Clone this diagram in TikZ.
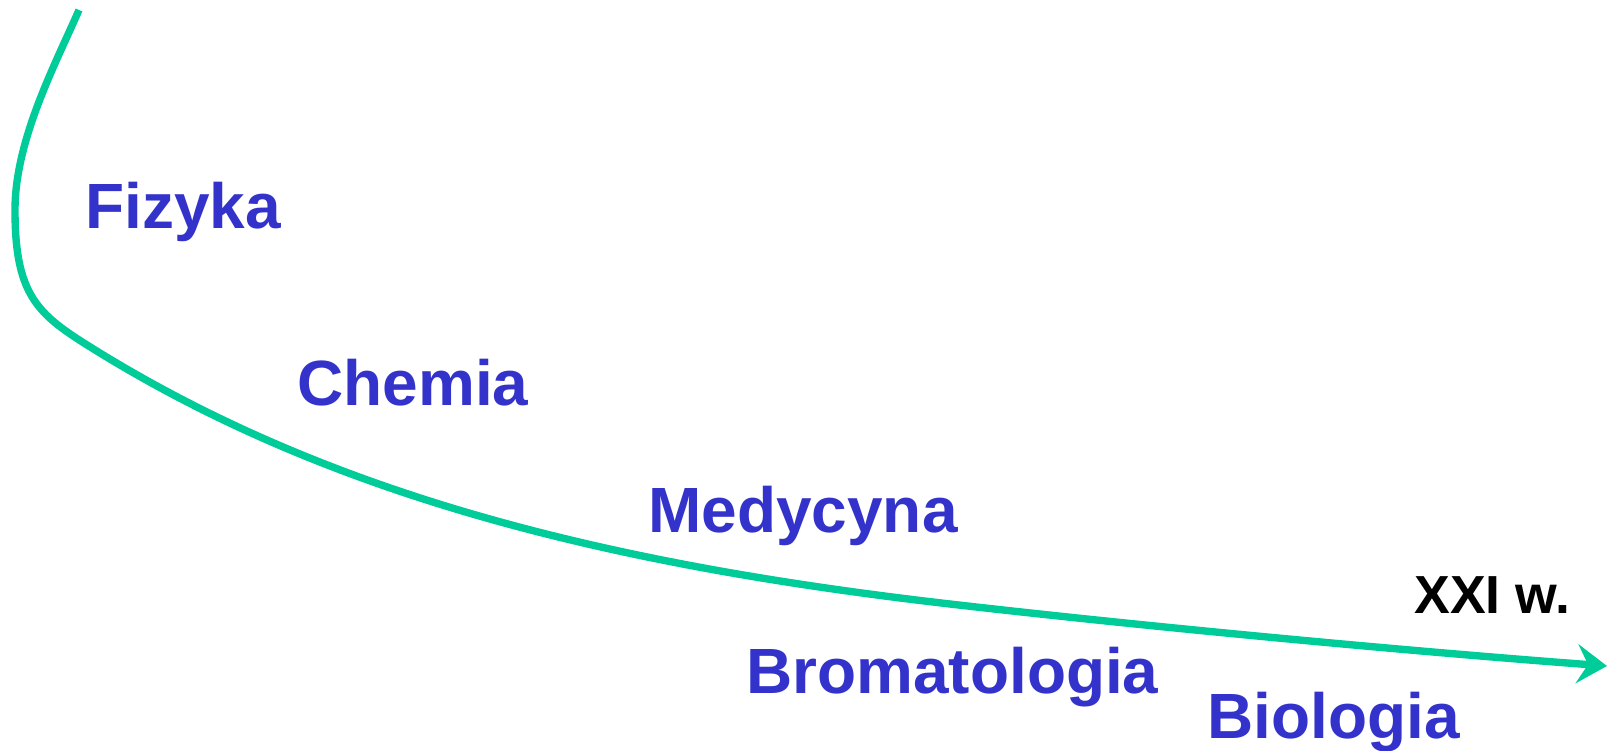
\documentclass[tikz,border=0pt]{standalone}
\usepackage{fontspec}
\setmainfont{Liberation Sans}
\usepackage{xcolor}
\usetikzlibrary{arrows.meta, positioning}
\definecolor{subjectBlue}{HTML}{3333CC}
\definecolor{curveGreen}{HTML}{00CC99}
\tikzset{
    subject_lbl/.style={
        anchor=base west, inner sep=0pt, text=subjectBlue,
        font=\fontsize{36.4}{40}\selectfont\bfseries
    },
    era_lbl/.style={
        anchor=base west, inner sep=0pt, text=black,
        font=\fontsize{30.5}{33}\selectfont\bfseries
    },
    time_arrow/.style={
        -{Stealth[length=0.6cm, width=0.78cm, inset=0.22cm]}, draw=curveGreen,
        line width=4.2pt, line cap=butt
    }
}
\begin{document}
\begin{tikzpicture}[x=0.02cm, y=-0.02cm]
    \useasboundingbox (0,0) rectangle (1607,751);

    % Time curve (from the top, sweeping down to the right)
    \coordinate (start) at (79,10);
    \coordinate (tip) at (1607,666);
    \draw[time_arrow] (start)
        .. controls (55,65) and (15,140) .. (15,210)
        .. controls (15,300) and (40,316) .. (100,353)
        .. controls (340,500) and (620,566) .. (950,604)
        .. controls (1150,627) and (1407,651) .. (tip);

    % Subjects along the curve
    \node[subject_lbl] (fiz) at (85,228) {Fizyka};
    \node[subject_lbl] (chem) at (297,405) {Chemia};
    \node[subject_lbl] (med) at (648,532) {Medycyna};
    \node[subject_lbl] (brom) at (746,693) {Bromatologia};
    \node[subject_lbl] (bio) at (1207,738) {Biologia};

    % Era label at the arrow end
    \node[era_lbl] (era) at (1414,613) {XXI w.};
\end{tikzpicture}
\end{document}
